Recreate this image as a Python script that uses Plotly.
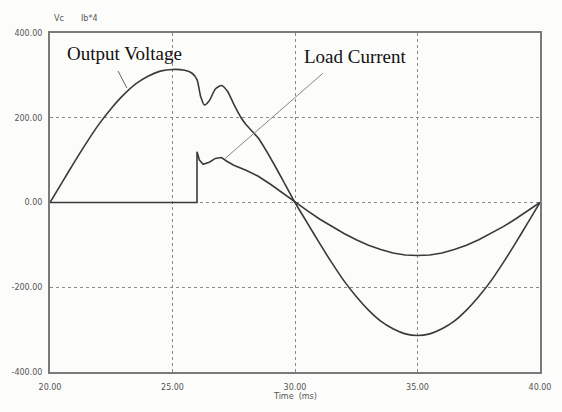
import plotly.graph_objects as go

# Output voltage waveform (V) versus time (ms)
t_vout = [20, 20.5, 21, 21.5, 22, 22.5, 23, 23.5, 24, 24.5, 25, 25.5, 25.8, 26.0,
          26.15, 26.3, 26.5, 26.75, 27.0, 27.25, 27.5, 27.8, 28.0, 28.5, 29.0, 29.5,
          30, 30.5, 31, 31.5, 32, 32.5, 33, 33.5, 34, 34.5, 35, 35.5, 36, 36.5, 37,
          37.5, 38, 38.5, 39, 39.5, 40]
vout = [0, 48, 96, 142, 185, 222, 254, 280, 298, 310, 314, 312, 305, 290,
        250, 230, 240, 268, 276, 262, 232, 200, 184, 152, 105, 53,
        0, -48, -96, -142, -185, -222, -254, -280, -298, -310, -314, -310, -298, -280, -254,
        -222, -185, -142, -96, -48, 0]

# Load current scaled by 4 (Ib*4) versus time (ms)
t_iload = [20, 26.0, 26.0, 26.1, 26.25, 26.5, 26.75, 27.0, 27.2, 27.5, 28.0, 28.5, 29.0, 29.5,
           30, 30.5, 31, 31.5, 32, 32.5, 33, 33.5, 34, 34.5, 35, 35.5, 36, 36.5, 37,
           37.5, 38, 38.5, 39, 39.5, 40]
iload = [0, 0, 120, 100, 90, 95, 104, 106, 98, 88, 76, 62, 43, 22,
         0, -19, -39, -57, -73, -88, -101, -111, -119, -124, -125, -124, -119, -111, -101,
         -88, -73, -57, -39, -19, 0]

x_ticks = [20, 25, 30, 35, 40]
x_tick_labels = ["20.00", "25.00", "30.00", "35.00", "40.00"]
y_ticks = [-400, -200, 0, 200, 400]
y_tick_labels = ["-400.00", "-200.00", "0.00", "200.00", "400.00"]

curve_color = "#3a3a3a"
frame_color = "#7a7a7a"
grid_color = "#8a8a8a"
label_font = dict(family="DejaVu Sans", size=8, color="#555555")

fig = go.Figure()
fig.add_trace(go.Scatter(x=t_vout, y=vout, mode="lines", name="Vc",
                         line=dict(color=curve_color, width=1.6, shape="spline", smoothing=0.6)))
fig.add_trace(go.Scatter(x=t_iload, y=iload, mode="lines", name="Ib*4",
                         line=dict(color=curve_color, width=1.6)))

# leader lines from the labels to the curves
fig.add_shape(type="line", x0=22.78, y0=310, x1=23.14, y1=270,
              line=dict(color="#666666", width=1))
fig.add_shape(type="line", x0=31.14, y0=305, x1=27.15, y1=104,
              line=dict(color="#888888", width=1))

fig.add_annotation(x=23.06, y=352, text="Output Voltage", showarrow=False,
                   font=dict(family="Liberation Serif", size=19, color="#111111"))
fig.add_annotation(x=32.45, y=345, text="Load Current", showarrow=False,
                   font=dict(family="Liberation Serif", size=19, color="#111111"))

# series captions above the plot and the x-axis title
fig.add_annotation(xref="paper", yref="paper", x=0.004, y=1.0, yshift=8, text="Vc",
                   showarrow=False, xanchor="left", yanchor="bottom", font=label_font)
fig.add_annotation(xref="paper", yref="paper", x=0.06, y=1.0, yshift=8, text="Ib*4",
                   showarrow=False, xanchor="left", yanchor="bottom", font=label_font)
fig.add_annotation(xref="paper", yref="paper", x=0.5, y=0, yshift=-24, text="Time  (ms)",
                   showarrow=False, yanchor="middle", font=label_font)

fig.update_xaxes(range=[20, 40], tickvals=x_ticks, ticktext=x_tick_labels,
                 showgrid=True, gridcolor=grid_color, griddash="dot", gridwidth=1,
                 zeroline=False, showline=True, linecolor=frame_color, linewidth=2,
                 mirror=True, ticks="", tickfont=label_font, ticklabelstandoff=6)
fig.update_yaxes(range=[-400, 400], tickvals=y_ticks, ticktext=y_tick_labels,
                 showgrid=True, gridcolor=grid_color, griddash="dot", gridwidth=1,
                 zeroline=False, showline=True, linecolor=frame_color, linewidth=2,
                 mirror=True, ticks="", tickfont=label_font, ticklabelstandoff=4)

fig.update_layout(width=562, height=412, showlegend=False,
                  margin=dict(l=50, r=22, t=33, b=40),
                  paper_bgcolor="#fcfcfa", plot_bgcolor="#fcfcfa")

fig.write_html("out.html")
